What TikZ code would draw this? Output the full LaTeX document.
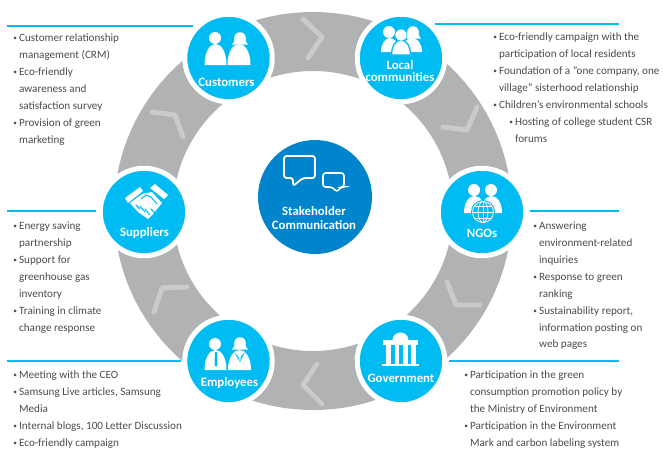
\documentclass[tikz,border=0pt]{standalone}
\usepackage{fontspec}
\setmainfont{Carlito}
\usetikzlibrary{arrows}

\definecolor{ringgray}{HTML}{B1B2B4}
\definecolor{chevgray}{HTML}{C9CACC}
\definecolor{stakeblue}{HTML}{00BCF2}
\definecolor{hubblue}{HTML}{0085CC}
\definecolor{listgray}{HTML}{4A4A4F}

% Bullet und Einzug der Listen
\newcommand{\bul}{\makebox[4.4pt][l]{\raisebox{0.8pt}{\fontsize{5.5}{5.5}\selectfont\textbullet}}}
\newcommand{\ind}{\hspace*{4.4pt}}
% Figuren: x, y unten, halbe Breite, Hoehe, Stil
\newcommand{\bellbody}[5]{\fill[white,#5] (#1-#3,#2) .. controls (#1-#3,#2-0.6*#4) and (#1-0.55*#3,#2-#4) .. (#1,#2-#4) .. controls (#1+0.55*#3,#2-#4) and (#1+#3,#2-0.6*#4) .. (#1+#3,#2) -- cycle;}
\newcommand{\manhead}[2]{\fill[white] (#1,#2) circle (6);}
\newcommand{\hairhead}[2]{\fill[white] (#1,#2) circle (5.8);
	\fill[white] (#1-8,#2+6.5) .. controls (#1-5.5,#2+5) and (#1-5.5,#2+2) .. (#1-5.5,#2) -- (#1+5.5,#2) .. controls (#1+5.5,#2+2) and (#1+5.5,#2+5) .. (#1+8,#2+6.5) -- cycle;}

\begin{document}
\begin{tikzpicture}[x=0.75pt, y=-0.75pt,
			stakecircle/.style={circle, fill=stakeblue, draw=white, line width=3.75pt, minimum size=65.6pt, inner sep=0pt},
			hubcircle/.style={circle, fill=hubblue, minimum size=85.5pt, inner sep=0pt},
			stakelabel/.style={text=white, font=\fontsize{9.6}{9}\selectfont\bfseries, align=center, inner sep=0pt},
			listbox/.style={anchor=north west, inner sep=0pt, text=listgray, align=left, font=\fontsize{8.35}{12.7}\selectfont},
			toprule/.style={draw=stakeblue, line width=0.8pt},
			chevron/.style={draw=chevgray, line width=3.7pt, line cap=round, line join=round}]
			\useasboundingbox (0,0) rectangle (663,454);
			% Ring
			\fill[ringgray, even odd rule] (313,211) circle (199) circle (140);
			% Winkel auf dem Ring
			\foreach \ax/\ay/\bx/\by/\cx/\cy in {303/19/322/37/308/58, 477/107/467/130/443/127, 447/282/456/305/480/305, 322/404/303/385/317/364, 187/287/162/288/154/312, 152/112/175/115/183/137}
				\draw[chevron] (\ax,\ay) -- (\bx,\by) -- (\cx,\cy);
			% Kreise
			\foreach \name/\x/\y in {customers/228.5/58, communities/401/58, ngos/482/212, government/401/361, employees/228.5/361, suppliers/144/212}
				\node[stakecircle] (\name) at (\x,\y) {};
			\node[hubcircle] (hub) at (315,197) {};
			% Linien
			\coordinate (ruleA) at (7,26);
			\coordinate (ruleB) at (619,24);
			\coordinate (ruleC) at (7,211);
			\coordinate (ruleD) at (619,211);
			\coordinate (ruleE) at (7,361);
			\coordinate (ruleF) at (619,361);
			\draw[toprule] (ruleA) -- (193,26);
			\draw[toprule] (ruleB) -- (435,24);
			\draw[toprule] (ruleC) -- (96,211);
			\draw[toprule] (ruleD) -- (530,211);
			\draw[toprule] (ruleE) -- (181,361);
			\draw[toprule] (ruleF) -- (449,361);
			% Beschriftung der Kreise
			\foreach \name/\x/\y/\txt in {customers/226.5/82/Customers, communities/400/71/{Local\\communities}, ngos/482/233/NGOs, government/401/378/Government, employees/229.5/383/Employees, suppliers/144.5/233/Suppliers}
				\node[stakelabel] (\name label) at (\x,\y) {\txt};
			\node[stakelabel] (hub label) at (314,218) {Stakeholder\\[1.5pt]Communication};
			% Customers
			\manhead{215}{38} \bellbody{215.5}{65}{11}{21}{}
			\hairhead{240}{38} \bellbody{239}{65}{11.5}{21}{}
			% Local communities
			\manhead{389}{32} \hairhead{413}{32}
			\bellbody{390}{52}{9}{14}{} \bellbody{412}{52}{10}{14}{}
			\bellbody{401}{55}{9.5}{15}{draw=stakeblue, line width=1pt}
			\fill[white, draw=stakeblue] (401,35) circle (6);
			% Suppliers
			\fill[white] (125,198) -- (140,187) -- (143,191) -- (128,203) -- cycle;
			\fill[white] (150,188) -- (155,184) -- (168,195) -- (164,199) -- cycle;
			\fill[white] (130,203) -- (142,194) -- (152,192) -- (162,203) -- (153,214) -- (148,219) -- (138,212) -- cycle;
			\draw[stakeblue, line width=0.8pt, line cap=round] (141,199) -- (146,195) -- (151,197) -- (157,204) (151,209) -- (155,213) (145,209) -- (150,215) (140,206) -- (145,212) (136,205) -- (140,209);
			% NGOs
			\manhead{474}{190} \manhead{491}{190}
			\bellbody{474.5}{213}{10.5}{17}{} \bellbody{491.5}{213}{10.5}{17}{}
			\fill[stakeblue] (483,212) circle (12);
			\begin{scope}[white, line width=0.6pt]
				\draw (483,212) circle (10.5);
				\draw (483,212) ellipse (5 and 10.5);
				\draw (483,201.5) -- (483,222.5) (472.5,212) -- (493.5,212) (474,206) -- (492,206) (474,218) -- (492,218);
			\end{scope}
			% Employees
			\manhead{215}{344} \hairhead{240}{343}
			\bellbody{215.5}{370}{11}{20}{} \bellbody{239.5}{370}{11.5}{20}{}
			\fill[stakeblue] (215,352) -- (217,352) -- (217.5,364) -- (216,367) -- (214.5,364) -- cycle;
			\fill[stakeblue] (234,352) -- (238,356) -- (240,362) -- cycle;
			\fill[stakeblue] (245,352) -- (241,356) -- (240,362) -- cycle;
			% Government
			\fill[white] (392.5,340) arc (180:360:8 and 7.5) -- cycle;
			\fill[white] (383,340) rectangle (418,345);
			\foreach \x in {386,394.5,403,411}
				\fill[white] (\x,345) rectangle (\x+4.5,364);
			\fill[white] (382,363.5) rectangle (419,366);
			% Sprechblasen
			\draw[white, line width=1.4pt, rounded corners=2pt] (284,156) -- (315,156) -- (315,178) -- (303,178) -- (293,186) -- (293,178) -- (284,178) -- cycle;
			\draw[white, line width=1.2pt, rounded corners=2pt] (323,173) -- (344,173) -- (344,187) -- (341,187) -- (337,192) -- (332,187) -- (323,187) -- cycle;
			% Listen
			\node[listbox] (list customers) at (13,33.5) {\bul Customer relationship\\\ind management (CRM)\\\bul Eco-friendly\\\ind awareness and\\\ind satisfaction survey\\\bul Provision of green\\\ind marketing};
			\node[listbox] (list communities) at (493,32.5) {\bul Eco-friendly campaign with the\\\ind participation of local residents\\\bul Foundation of a "one company, one\\\ind village" sisterhood relationship\\\bul Children's environmental schools\\\hspace*{12pt}\bul Hosting of college student CSR\\\hspace*{12pt}\ind forums};
			\node[listbox] (list suppliers) at (13,221.5) {\bul Energy saving\\\ind partnership\\\bul Support for\\\ind greenhouse gas\\\ind inventory\\\bul Training in climate\\\ind change response};
			\node[listbox] (list ngos) at (533,221.5) {\bul Answering\\\ind environment-related\\\ind inquiries\\\bul Response to green\\\ind ranking\\\bul Sustainability report,\\\ind information posting on\\\ind web pages};
			\node[listbox] (list employees) at (13,370.5) {\bul Meeting with the CEO\\\bul Samsung Live articles, Samsung\\\ind Media\\\bul Internal blogs, 100 Letter Discussion\\\bul Eco-friendly campaign};
			\node[listbox] (list government) at (464,370.5) {\bul Participation in the green\\\ind consumption promotion policy by\\\ind the Ministry of Environment\\\bul Participation in the Environment\\\ind Mark and carbon labeling system};
		\end{tikzpicture}
\end{document}
